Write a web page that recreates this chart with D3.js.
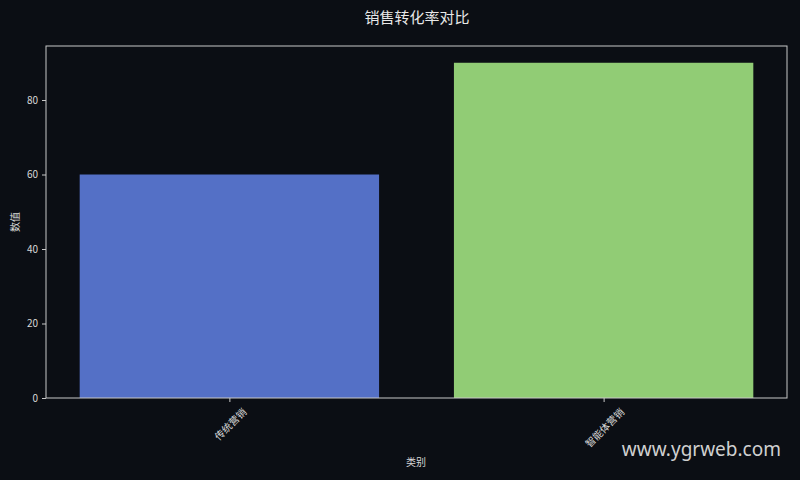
<!DOCTYPE html>
<html>
<head>
<meta charset="utf-8">
<script src="https://cdn.jsdelivr.net/npm/d3@7"></script>
<style>
	body { margin: 0; background: #0b0e14; }
	svg { display: block; }
</style>
</head>
<body>
<svg id="chart"></svg>
<script>
// data
const categories = ['传统营销', '智能体营销'];
const values = [60, 90];
const barColors = ['#5470c6', '#91cc75'];
const yTicks = [0, 20, 40, 60, 80];

const width = 800,
	height = 480;
const margin = { left: 46, right: 13, top: 46, bottom: 82 };
const font = '"Noto Sans CJK SC", "DejaVu Sans", sans-serif';
const textColor = '#d8d8d8';

const chart = d3.select('#chart')
	.attr('width', width)
	.attr('height', height)
	.style('background', '#0b0e14');

// matplotlib-like padding: bars width 0.8, 5% margins
const x = d3.scaleLinear()
	.domain([-0.49, categories.length - 1 + 0.49])
	.range([margin.left, width - margin.right]);

const y = d3.scaleLinear()
	.domain([0, d3.max(values) * 1.05])
	.range([height - margin.bottom, margin.top]);

// bars
chart.selectAll('rect.bar')
	.data(values)
	.enter()
	.append('rect')
	.attr('class', 'bar')
	.attr('x', (d, i) => x(i - 0.4))
	.attr('y', d => y(d))
	.attr('width', x(0.4) - x(-0.4))
	.attr('height', d => y(0) - y(d))
	.style('fill', (d, i) => barColors[i]);

// frame
chart.append('rect')
	.attr('x', margin.left)
	.attr('y', margin.top)
	.attr('width', width - margin.left - margin.right)
	.attr('height', height - margin.top - margin.bottom)
	.style('fill', 'none')
	.style('stroke', '#c8c8c8')
	.style('stroke-width', 1);

// axes
const yAxis = d3.axisLeft(y).tickValues(yTicks).tickSize(4).tickPadding(4);
chart.append('g')
	.attr('class', 'yaxis')
	.attr('transform', `translate(${margin.left}, 0)`)
	.call(yAxis)
	.call(g => g.select('.domain').remove());

const xAxis = d3.axisBottom(x)
	.tickValues(d3.range(categories.length))
	.tickFormat(i => categories[i])
	.tickSize(4);
const xg = chart.append('g')
	.attr('class', 'xaxis')
	.attr('transform', `translate(0, ${height - margin.bottom})`)
	.call(xAxis)
	.call(g => g.select('.domain').remove());

chart.selectAll('.tick line').style('stroke', '#c8c8c8');
chart.selectAll('.tick text')
	.style('fill', textColor)
	.style('font-family', font)
	.style('font-size', '10px');

// rotate x labels 45deg, centered on tick
xg.selectAll('.tick text')
	.attr('y', 0)
	.attr('dy', 0)
	.attr('text-anchor', 'middle')
	.attr('dominant-baseline', 'central')
	.each(function() {
		const w = this.getComputedTextLength();
		const h = (w + 10) * Math.SQRT1_2;
		d3.select(this).attr('transform', `translate(0, ${8 + h / 2}) rotate(-45)`);
	});

// titles
chart.append('text')
	.attr('x', width / 2 + 17)
	.attr('y', 23)
	.attr('text-anchor', 'middle')
	.style('fill', '#e8e8e8')
	.style('font-family', font)
	.style('font-size', '15px')
	.text('销售转化率对比');

chart.append('text')
	.attr('x', 416)
	.attr('y', 466)
	.attr('text-anchor', 'middle')
	.style('fill', textColor)
	.style('font-family', font)
	.style('font-size', '10px')
	.text('类别');

chart.append('text')
	.attr('transform', 'translate(19, 222) rotate(-90)')
	.attr('text-anchor', 'middle')
	.style('fill', textColor)
	.style('font-family', font)
	.style('font-size', '10px')
	.text('数值');

// watermark
chart.append('text')
	.attr('x', 781)
	.attr('y', 456)
	.attr('text-anchor', 'end')
	.style('fill', '#d0d0d0')
	.style('font-family', '"Noto Sans", "DejaVu Sans", sans-serif')
	.style('font-size', '19px')
	.text('www.ygrweb.com');
</script>
</body>
</html>
